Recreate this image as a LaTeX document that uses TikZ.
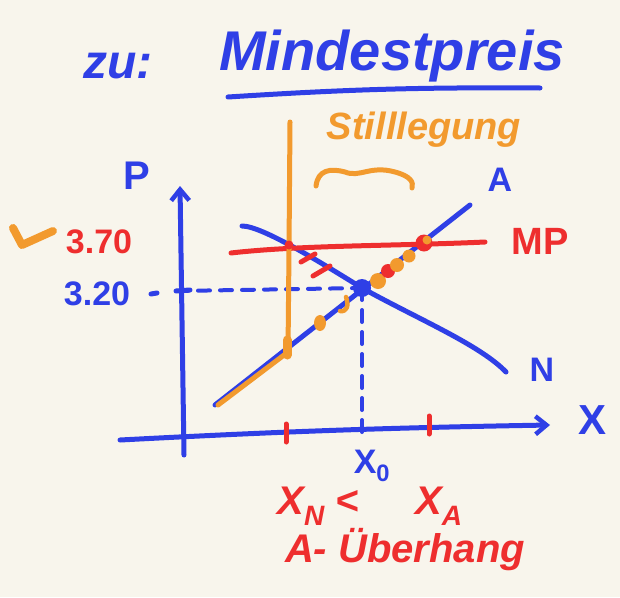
\documentclass[tikz,border=0pt]{standalone}
\usepackage{fontspec}
\setmainfont{Liberation Sans}
\usetikzlibrary{arrows.meta}
\definecolor{bg}{HTML}{F8F5EC}
\definecolor{pblue}{HTML}{2F3FE6}
\definecolor{pred}{HTML}{EE2E2E}
\definecolor{porange}{HTML}{F29A2E}
\tikzset{
  pen/.style={line width=5pt, line cap=round, line join=round},
  bluepen/.style={pen, draw=pblue},
  redpen/.style={pen, draw=pred},
  orangepen/.style={pen, draw=porange},
  axisarrow/.style={bluepen, -{Straight Barb[length=11pt,width=18pt,line width=4.5pt]}},
  hand/.style={font=\bfseries\itshape, inner sep=0pt},
  dashline/.style={draw=pblue, line width=4pt, dash pattern=on 12pt off 10pt, line cap=round}
}
\begin{document}
\begin{tikzpicture}[x=1pt,y=-1pt]
\fill[bg] (0,0) rectangle (620,597);
\useasboundingbox (0,0) rectangle (620,597);
% title
\node[hand, text=pblue, font=\bfseries\itshape\fontsize{48}{54}\selectfont] (zu) at (118,66) {zu:};
\node[hand, text=pblue, font=\bfseries\itshape\fontsize{56}{62}\selectfont] (title) at (392,56) {Mindestpreis};
\coordinate (ul1) at (228,97);
\coordinate (ul2) at (540,88);
\draw[bluepen] (ul1) to[bend left=2] (ul2);
% Stilllegung
\node[hand, text=porange, font=\bfseries\itshape\fontsize{38}{42}\selectfont] (still) at (424,130) {Stilllegung};
\coordinate (br1) at (316,186);
\coordinate (br2) at (412,188);
\draw[orangepen] (br1) .. controls (318,170) and (330,168) .. (345,172) .. controls (360,178) and (370,165) .. (395,172) .. controls (410,176) and (414,182) .. (br2);
% axes
\coordinate (yb) at (184,455);
\coordinate (yt) at (180,186);
\draw[axisarrow] (yb) -- (yt);
\coordinate (xl) at (120,440);
\coordinate (xr) at (550,425);
\draw[axisarrow] (xl) to[bend left=1] (xr);
\node[hand, text=pblue, font=\bfseries\fontsize{40}{44}\selectfont] (P) at (137,176) {P};
\node[hand, text=pblue, font=\bfseries\fontsize{42}{46}\selectfont] (X) at (592,420) {X};
% supply A and demand N
\coordinate (a1) at (215,405);
\coordinate (a2) at (470,205);
\draw[bluepen] (a1) -- (a2);
\node[hand, text=pblue, font=\bfseries\fontsize{34}{38}\selectfont] (A) at (500,180) {A};
\coordinate (n1) at (242,226);
\coordinate (n2) at (506,372);
\draw[bluepen] (n1) .. controls (262,226) and (320,262) .. (362,288) .. controls (420,320) and (480,345) .. (n2);
\node[hand, text=pblue, font=\bfseries\fontsize{34}{38}\selectfont] (N) at (542,370) {N};
% equilibrium
\coordinate (eq) at (362,288);
\fill[pblue] (eq) circle (9pt);
\coordinate (d1) at (176,291);
\coordinate (x0t) at (362,440);
\draw[dashline] (d1) -- (eq);
\draw[dashline] (eq) -- (x0t);
\node[hand, text=pblue, font=\bfseries\fontsize{34}{38}\selectfont] (x0) at (372,466) {X\textsubscript{0}};
% price labels
\node[hand, text=pblue, font=\bfseries\fontsize{34}{38}\selectfont] (p320) at (97,294) {3.20};
\coordinate (t1) at (151,294);
\coordinate (t2) at (157,293);
\draw[bluepen] (t1) -- (t2);
\coordinate (t3) at (176,291);
\coordinate (t4) at (190,290);
\draw[bluepen] (t3) -- (t4);
\node[hand, text=pred, font=\bfseries\fontsize{34}{38}\selectfont] (p370) at (99,242) {3.70};
\coordinate (c1) at (13,228);
\coordinate (c2) at (22,245);
\coordinate (c3) at (53,231);
\draw[orangepen, line width=8pt] (c1) -- (c2) -- (c3);
% MP
\coordinate (mp1) at (231,253);
\coordinate (mp2) at (485,242);
\draw[redpen] (mp1) .. controls (300,245) and (400,246) .. (mp2);
\node[hand, text=pred, font=\bfseries\fontsize{38}{42}\selectfont] (MP) at (540,241) {MP};
% x ticks
\coordinate (tk1a) at (286,424);
\coordinate (tk1b) at (286,442);
\draw[redpen] (tk1a) -- (tk1b);
\coordinate (tk2a) at (429,416);
\coordinate (tk2b) at (429,434);
\draw[redpen] (tk2a) -- (tk2b);
% stilllegung line
\coordinate (o1) at (290,122);
\coordinate (o2) at (288,352);
\coordinate (o3) at (218,405);
\draw[orangepen] (o1) -- (289,250) -- (o2) -- (o3);
\draw[porange, line width=9pt, line cap=round] (287,340) -- (287,355);
\fill[pred] (289,245) circle (4.5pt);
% red hatch on demand
\coordinate (h1a) at (301,262);
\coordinate (h1b) at (315,254);
\draw[redpen] (h1a) -- (h1b);
\coordinate (h2a) at (313,276);
\coordinate (h2b) at (330,266);
\draw[redpen] (h2a) -- (h2b);
% orange dots along supply
\fill[porange] (320,323) ellipse (6pt and 8pt);
\draw[orangepen, line width=4.5pt] (346,297) .. controls (349,306) and (347,312) .. (340,311);
\fill[porange] (378,281) circle (8pt);
\fill[pred] (388,271) circle (7pt);
\fill[porange] (397,265) circle (7pt);
\fill[porange] (409,256) circle (6.5pt);
\fill[pred] (424,243) circle (8.5pt);
\fill[porange] (427,240) circle (4.5pt);
% bottom text
\node[hand, text=pred, font=\bfseries\itshape\fontsize{40}{44}\selectfont] (ineq) at (370,506) {X\textsubscript{N} <\hspace{1.4em}X\textsubscript{A}};
\node[hand, text=pred, font=\bfseries\itshape\fontsize{40}{44}\selectfont] (ueber) at (405,550) {A- Überhang};
\end{tikzpicture}
\end{document}
